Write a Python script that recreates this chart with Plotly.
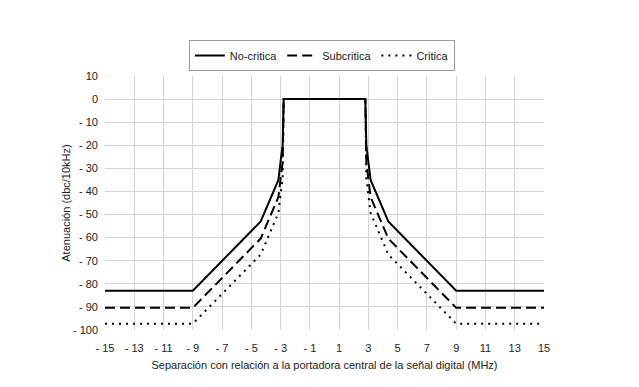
import plotly.graph_objects as go

freq = [-15, -9, -4.36, -3.15, -3, -2.86, -2.79, 2.79, 2.86, 3, 3.15, 4.36, 9, 15]
no_critica = [-83, -83, -53, -35, -27, -20, 0, 0, -20, -27, -35, -53, -83, -83]
subcritica = [-90.4, -90.4, -60.4, -42.4, -34.4, -27.4, 0, 0, -27.4, -34.4, -42.4, -60.4, -90.4, -90.4]
critica = [-97.3, -97.3, -67.3, -49.3, -41.3, -34.3, 0, 0, -34.3, -41.3, -49.3, -67.3, -97.3, -97.3]

x_ticks = list(range(-15, 16, 2))
x_labels = [("- " + str(-v)) if v < 0 else str(v) for v in x_ticks]
y_ticks = list(range(-100, 11, 10))
y_labels = [("- " + str(-v)) if v < 0 else str(v) for v in y_ticks]

fig = go.Figure()
fig.add_trace(go.Scatter(x=freq, y=critica, mode="lines", name="Critica",
                         line=dict(color="black", width=2, dash="2px,5px")))
fig.add_trace(go.Scatter(x=freq, y=subcritica, mode="lines", name="Subcritica",
                         line=dict(color="black", width=2, dash="10px,5px")))
fig.add_trace(go.Scatter(x=freq, y=no_critica, mode="lines", name="No-critica",
                         line=dict(color="black", width=2, dash="solid")))

fig.update_layout(
    width=639, height=387,
    margin=dict(l=97, r=103, t=68, b=65, autoexpand=False),
    paper_bgcolor="white", plot_bgcolor="white",
    font=dict(family="Liberation Sans, Arial, sans-serif", size=11, color="#222"),
    legend=dict(orientation="h", x=0.494, xanchor="center", y=1 - 32 / 387, yanchor="top",
                yref="container",
                traceorder="reversed", bordercolor="#999", borderwidth=1,
                font=dict(size=11), itemwidth=30, tracegroupgap=0),
    xaxis=dict(range=[-15, 15], tickvals=x_ticks, ticktext=x_labels,
               showgrid=True, gridcolor="#d4d4d4", gridwidth=1, zeroline=False,
               showline=False, ticks="", tickfont=dict(size=11), automargin=False,
               ticklabelstandoff=10,
               title=dict(text="Separación con relación a la portadora central de la señal digital (MHz)",
                          font=dict(size=11), standoff=8)),
    yaxis=dict(range=[-100, 10], tickvals=y_ticks, ticktext=y_labels,
               showgrid=True, gridcolor="#d4d4d4", gridwidth=1, zeroline=False,
               showline=False, ticks="", tickfont=dict(size=11), automargin=False,
               ticklabelstandoff=6,
               title=dict(text="Atenuación (dbc/10kHz)", font=dict(size=11), standoff=0)),
)

fig.write_html("out.html")
